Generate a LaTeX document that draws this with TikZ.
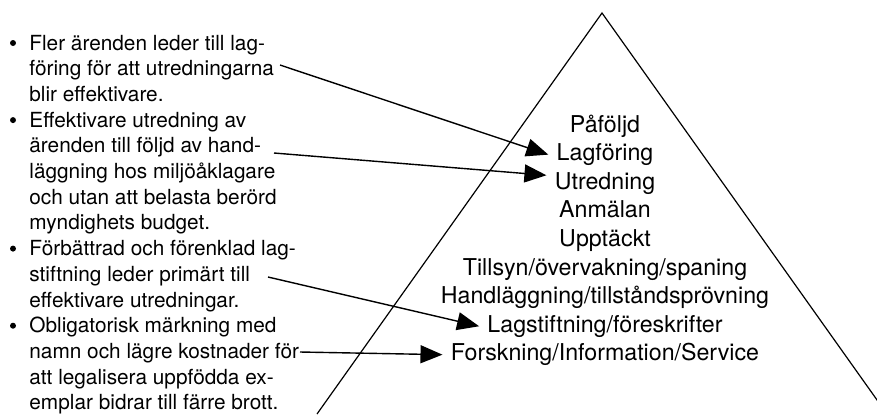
\documentclass[tikz,border=0pt]{standalone}
\usepackage{fontspec}
\setmainfont{TeX Gyre Heros}
\usepackage{tikz}
\usetikzlibrary{arrows.meta,positioning}
\tikzstyle{edge}=[
	-{Triangle[length=11pt,width=9pt]},
	line width=0.7pt,
	draw=black
]
\tikzstyle{side}=[
	line width=0.6pt,
	draw=black
]
\tikzstyle{txt}=[
	anchor=base west,
	inner sep=0pt,
	font=\fontsize{10.4}{12}\selectfont
]
\tikzstyle{lvl}=[
	anchor=base,
	inner xsep=4pt,
	inner ysep=2pt,
	font=\fontsize{11.6}{14}\selectfont
]
\tikzstyle{dot}=[
	circle,
	fill=black,
	inner sep=0pt,
	minimum size=3pt
]

\begin{document}
\begin{tikzpicture}[x=0.5pt, y=-0.5pt]
\useasboundingbox (0,0) rectangle (877,414);

% pyramid
\coordinate (top) at (602,13);
\coordinate (bl) at (317,414);
\coordinate (br) at (887,414);
\draw[side] (bl) -- (top) -- (br);

\foreach \t [count=\i] in {Påföljd, Lagföring, Utredning, Anmälan, Upptäckt,
    Tillsyn/övervakning/spaning, Handläggning/tillståndsprövning,
    Lagstiftning/föreskrifter, Forskning/Information/Service}{
    \node[lvl] (p\i) at (605, {132+28.6*(\i-1)}) {\t};
}

% left list
\foreach \t [count=\i] in {Fler ärenden leder till lag-, föring för att utredningarna,
    blir effektivare., Effektivare utredning av, ärenden till följd av hand-,
    läggning hos miljöåklagare, och utan att belasta berörd, myndighets budget.,
    Förbättrad och förenklad lag-, stiftning leder primärt till,
    effektivare utredningar., Obligatorisk märkning med,
    namn och lägre kostnader för, att legalisera uppfödda ex-,
    emplar bidrar till färre brott.}{
    \node[txt] (l\i) at (29, {50+25.7*(\i-1)}) {\t};
}

\foreach \i/\n in {1/1, 4/2, 9/3, 12/4}{
    \node[dot] (b\n) at (13, {43+25.7*(\i-1)}) {};
}

\coordinate (s1) at (280,65);
\coordinate (s2) at (274,153);
\coordinate (s3) at (268,277);
\coordinate (s4) at (300,352);

\draw[edge] (s1) to (p2.west);
\draw[edge] (s2) to ([yshift=4pt]p3.west);
\draw[edge] (s3) to (p8.west);
\draw[edge] (s4) to (p9.west);
\end{tikzpicture}
\end{document}
